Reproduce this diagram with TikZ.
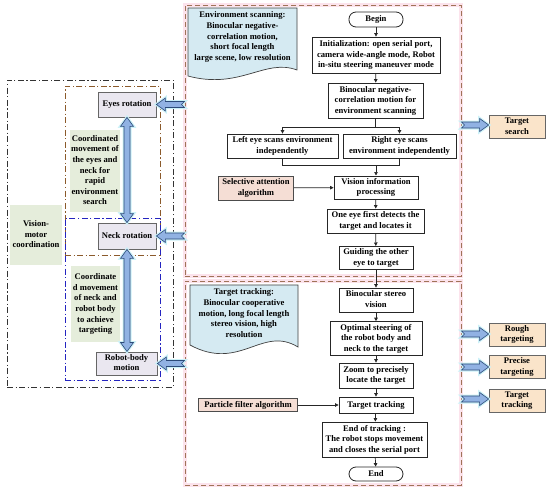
\documentclass[tikz,border=0pt]{standalone}
\usepackage{fontspec}
\setmainfont{Liberation Serif}
\usetikzlibrary{arrows.meta,calc,shapes.misc}
\definecolor{docfill}{HTML}{D5EAF2}
\definecolor{algfill}{HTML}{F5DED5}
\definecolor{tgtfill}{HTML}{FAE4CA}
\definecolor{lavfill}{HTML}{EAE7F0}
\definecolor{grnfill}{HTML}{E5EDDB}
\definecolor{blkfill}{HTML}{91B2E3}
\definecolor{blkline}{HTML}{2C4A78}
\definecolor{glow}{HTML}{CCF1F8}
\definecolor{framebrown}{HTML}{A07358}
\definecolor{framepink}{HTML}{FCE3EC}
\definecolor{ddbrown}{HTML}{8B5A2B}
\definecolor{ddblue}{HTML}{2424C0}
\definecolor{ddblack}{HTML}{333333}
\newcommand\ml[1]{\begin{tabular}{@{}c@{}}#1\end{tabular}}
\tikzset{
  box/.style={draw=black!85, line width=0.8pt, fill=white, inner sep=1pt},
  term/.style={box, rounded corners=7pt},
  alg/.style={draw=black!70, line width=0.7pt, fill=algfill, inner sep=1pt},
  tgt/.style={draw=black!60, line width=0.7pt, fill=tgtfill, inner sep=1pt},
  lnode/.style={draw=black!60, line width=0.8pt, fill=lavfill, inner sep=1pt},
  grn/.style={fill=grnfill, inner sep=1pt},
  frame/.style={draw=framebrown, line width=1pt, dash pattern=on 5pt off 3pt,
     preaction={draw=framepink, line width=4pt, solid}, inner sep=0pt},
  ddframe/.style={line width=1pt, dash pattern=on 6pt off 2.5pt on 1.2pt off 2.5pt},
  flow/.style={draw=black!85, line width=0.7pt, -{Triangle[length=3.5pt,width=3.5pt]}},
  fline/.style={draw=black!85, line width=0.7pt},
  blk/.style={fill=blkfill, draw=blkline, line width=0.6pt, line join=miter,
     preaction={draw=glow, line width=3pt}},
  docshape/.style={fill=docfill, draw=black!75, line width=0.7pt},
}
\newcommand\hblk[2]{%
  \draw[blk] let \p1=(#1), \p2=(#2), \n1={ifthenelse(\x2>\x1,1,-1)} in
    (\x1,{\y2+3pt}) -- ({\x2-\n1*9pt},{\y2+3pt}) -- ({\x2-\n1*9pt},{\y2+6.5pt})
    -- (\x2,\y2) -- ({\x2-\n1*9pt},{\y2-6.5pt}) -- ({\x2-\n1*9pt},{\y2-3pt})
    -- (\x1,{\y2-3pt}) -- ({\x1+\n1*3pt},\y2) -- cycle;}
\newcommand\vdbl[2]{%
  \draw[blk] let \p1=(#1), \p2=(#2) in
    (\x1,\y1) -- ({\x1+6.5pt},{\y1-9pt}) -- ({\x1+3pt},{\y1-9pt}) -- ({\x1+3pt},{\y2+9pt})
    -- ({\x1+6.5pt},{\y2+9pt}) -- (\x1,\y2) -- ({\x1-6.5pt},{\y2+9pt}) -- ({\x1-3pt},{\y2+9pt})
    -- ({\x1-3pt},{\y1-9pt}) -- ({\x1-6.5pt},{\y1-9pt}) -- cycle;}
\begin{document}
\begin{tikzpicture}[x=1pt,y=-1pt,font=\fontsize{8.6}{10.6}\selectfont\bfseries]
\useasboundingbox (0,0) rectangle (550,491);
\fill[white] (0,0) rectangle (550,491);
% frames on the right
\node[frame, minimum width=276pt, minimum height=271pt] (frameA) at (323,140.5) {};
\node[frame, minimum width=276pt, minimum height=204pt] (frameB) at (323,383) {};
% left dash-dot frames
\node[ddframe, draw=ddblack, minimum width=166pt, minimum height=307pt, inner sep=0pt] (fOuter) at (90,233.5) {};
\node[ddframe, draw=ddbrown, minimum width=95pt, minimum height=169pt, inner sep=0pt] (fEyes) at (112.5,170.5) {};
\node[ddframe, draw=ddblue, minimum width=95pt, minimum height=162pt, inner sep=0pt] (fBody) at (112.5,299) {};
% document shapes
\draw[docshape] (188,8) -- (297,8) -- (297,70) .. controls (265,58) and (240,90) .. (188,76) -- cycle;
\node[inner sep=0pt] (envtext) at (242.5,37) {\ml{Environment scanning:\\Binocular negative-\\correlation motion,\\short focal length\\large scene, low resolution}};
\draw[docshape] (190,285) -- (298,285) -- (298,347) .. controls (262,325) and (240,372) .. (190,345) -- cycle;
\node[inner sep=0pt] (trktext) at (244,314) {\ml{Target tracking:\\Binocular cooperative\\motion, long focal length\\stereo vision, high\\resolution}};
% flowchart nodes
\node[term, minimum width=54pt, minimum height=15pt] (begin) at (376,19.5) {Begin};
\node[box, minimum width=128pt, minimum height=36pt] (init) at (376,55) {\ml{Initialization: open serial port,\\camera wide-angle mode, Robot\\in-situ steering maneuver mode}};
\node[box, minimum width=95pt, minimum height=35pt] (binoc) at (375.5,100.5) {\ml{Binocular negative-\\correlation motion for\\environment scanning}};
\node[box, minimum width=111pt, minimum height=24pt] (leye) at (282.5,146) {\ml{Left eye scans environment\\independently}};
\node[box, minimum width=113pt, minimum height=24pt] (reye) at (399.5,146) {\ml{Right eye scans\\environment independently}};
\node[box, minimum width=84pt, minimum height=23pt] (vision) at (376,187.5) {\ml{Vision information\\processing}};
\node[alg, minimum width=75pt, minimum height=24pt] (sel) at (256,188) {\ml{Selective attention\\algorithm}};
\node[box, minimum width=97pt, minimum height=24pt] (one) at (375.5,221) {\ml{One eye first detects the\\target and locates it}};
\node[box, minimum width=74pt, minimum height=22pt] (guide) at (376,258) {\ml{Guiding the other\\eye to target}};
\node[box, minimum width=74pt, minimum height=24pt] (stereo) at (376,300) {\ml{Binocular stereo\\vision}};
\node[box, minimum width=92pt, minimum height=33pt] (opt) at (376,338.5) {\ml{Optimal steering of\\the robot body and\\neck to the target}};
\node[box, minimum width=74pt, minimum height=25pt] (zoomb) at (376,375.5) {\ml{Zoom to precisely\\locate the target}};
\node[box, minimum width=74pt, minimum height=16pt] (track) at (376,405) {Target tracking};
\node[alg, minimum width=99pt, minimum height=13pt] (pf) at (248,405) {Particle filter algorithm};
\node[box, minimum width=105pt, minimum height=35pt] (eot) at (374.5,439.5) {\ml{End of tracking :\\The robot stops movement\\and closes the serial port}};
\node[term, minimum width=54pt, minimum height=14pt] (end) at (376,474) {End};
% flow connectors
\draw[flow] (begin) -- (init);
\draw[flow] (init) -- (binoc);
\draw[fline] (binoc.south) -- ++(0,9) coordinate (sp);
\draw[flow] (sp) -| (leye.north);
\draw[flow] (sp) -| (reye.north);
\draw[fline] (leye.south) -- ++(0,7) coordinate (mg) -| (reye.south);
\draw[flow] (mg -| vision.north) -- (vision.north);
\draw[flow] (sel) -- (vision);
\draw[flow] (vision) -- (one);
\draw[flow] (one) -- (guide);
\draw[flow] (guide) -- (stereo);
\draw[flow] (stereo) -- (opt);
\draw[flow] (opt) -- (zoomb);
\draw[flow] (zoomb) -- (track);
\draw[flow] (pf) -- (track);
\draw[flow] (track) -- (eot);
\draw[flow] (eot) -- (end);
% left column
\node[lnode, minimum width=58pt, minimum height=25pt] (eyes) at (127,104.5) {Eyes rotation};
\node[lnode, minimum width=58pt, minimum height=26pt] (neck) at (127,236) {Neck rotation};
\node[lnode, minimum width=61pt, minimum height=23pt] (robot) at (126.5,363.5) {\ml{Robot-body\\motion}};
\node[grn, minimum width=50pt, minimum height=82pt] (coord1) at (95,171) {\ml{Coordinated\\movement of\\the eyes and\\neck for\\rapid\\environment\\search}};
\node[grn, minimum width=52pt, minimum height=60pt] (vm) at (36,235) {\ml{Vision-\\motor\\coordination}};
\node[grn, minimum width=49pt, minimum height=76pt] (coord2) at (95.5,304) {\ml{Coordinate\\d movement\\of neck and\\robot body\\to achieve\\targeting}};
\vdbl{eyes.south}{neck.north}
\vdbl{neck.south}{robot.north}
\hblk{frameA.west |- eyes.east}{eyes.east}
\hblk{frameA.west |- neck.east}{neck.east}
\hblk{frameB.west |- robot.east}{robot.east}
% targets on the right
\node[tgt, minimum width=56pt, minimum height=22pt] (ts) at (517,127) {\ml{Target\\search}};
\node[tgt, minimum width=56pt, minimum height=23pt] (rough) at (517,334.5) {\ml{Rough\\targeting}};
\node[tgt, minimum width=56pt, minimum height=20pt] (precise) at (517,367) {\ml{Precise\\targeting}};
\node[tgt, minimum width=56pt, minimum height=23pt] (ttrack) at (517,400.5) {\ml{Target\\tracking}};
\coordinate (a1) at (517,125);
\coordinate (a2) at (517,334);
\coordinate (a3) at (517,367);
\coordinate (a4) at (517,399);
\hblk{frameA.east |- a1}{ts.west |- a1}
\hblk{frameB.east |- a2}{rough.west |- a2}
\hblk{frameB.east |- a3}{precise.west |- a3}
\hblk{frameB.east |- a4}{ttrack.west |- a4}
\end{tikzpicture}
\end{document}
